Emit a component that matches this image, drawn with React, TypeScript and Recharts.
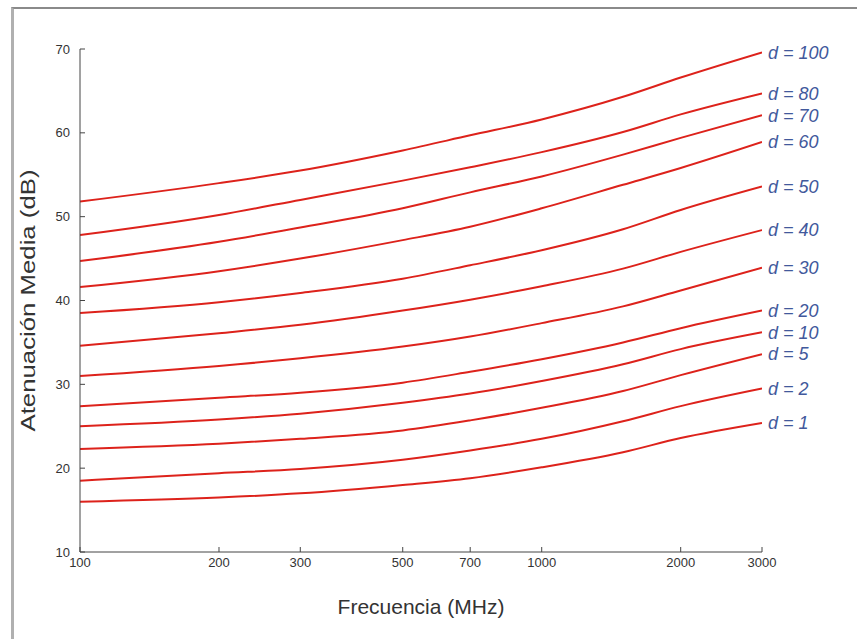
import React from 'react';
import { LineChart, Line, XAxis, YAxis } from 'recharts';

// frecuencias (MHz)
const freqs = [100, 200, 300, 500, 700, 1000, 1500, 2000, 3000];

const d100 = [51.8, 54.0, 55.5, 57.9, 59.7, 61.6, 64.3, 66.6, 69.6];
const d80 = [47.8, 50.2, 52.0, 54.3, 55.9, 57.7, 60.1, 62.2, 64.7];
const d70 = [44.7, 47.0, 48.7, 51.0, 52.9, 54.8, 57.4, 59.4, 62.1];
const d60 = [41.6, 43.5, 45.0, 47.2, 48.8, 51.0, 53.8, 55.8, 58.9];
const d50 = [38.5, 39.8, 40.9, 42.6, 44.2, 46.0, 48.5, 50.8, 53.6];
const d40 = [34.6, 36.1, 37.1, 38.8, 40.1, 41.7, 43.8, 45.8, 48.4];
const d30 = [31.0, 32.2, 33.1, 34.5, 35.7, 37.3, 39.3, 41.2, 43.9];
const d20 = [27.4, 28.4, 29.0, 30.2, 31.5, 33.0, 35.0, 36.7, 38.8];
const d10 = [25.0, 25.8, 26.5, 27.8, 28.9, 30.4, 32.4, 34.2, 36.2];
const d5 = [22.3, 22.9, 23.5, 24.5, 25.7, 27.2, 29.2, 31.1, 33.6];
const d2 = [18.5, 19.4, 19.9, 21.0, 22.1, 23.5, 25.6, 27.4, 29.5];
const d1 = [16.0, 16.5, 17.0, 18.0, 18.8, 20.1, 21.9, 23.6, 25.4];

const seriesNames = ['d = 100', 'd = 80', 'd = 70', 'd = 60', 'd = 50', 'd = 40', 'd = 30', 'd = 20', 'd = 10', 'd = 5', 'd = 2', 'd = 1'];
const seriesValues = [d100, d80, d70, d60, d50, d40, d30, d20, d10, d5, d2, d1];

const xTicks = [100, 200, 300, 500, 700, 1000, 2000, 3000];
const yTicks = [10, 20, 30, 40, 50, 60, 70];

const data = freqs.map((f, i) => {
  const row: Record<string, number> = { f };
  seriesNames.forEach((name, k) => {
    row[name] = seriesValues[k][i];
  });
  return row;
});

const FONT = "'Liberation Sans', Arial, sans-serif";

const makeEndLabel = (name: string) => (props: any) => {
  const { x, y, index } = props;
  if (index !== freqs.length - 1) return null;
  return (
    <text x={x + 6} y={y} dy="0.35em" fill="#42599c" fontSize={18} fontStyle="italic" fontFamily={FONT}>
      {name}
    </text>
  );
};

// etiqueta del eje Y, algo estirada en vertical como en el original
const YTitle = (props: any) => {
  const { viewBox } = props;
  const cx = 28;
  const cy = viewBox.y + viewBox.height / 2;
  return (
    <text
      x={cx}
      y={cy}
      transform={`rotate(-90 ${cx} ${cy})`}
      textAnchor="middle"
      dy="0.35em"
      fill="#333"
      fontSize={21}
      fontFamily={FONT}
      textLength={262}
      lengthAdjust="spacingAndGlyphs"
    >
      Atenuación Media (dB)
    </text>
  );
};

const tickStyle = { fill: '#333', fontSize: 13, fontFamily: FONT };

export default function App() {
  return (
    <div style={{ position: 'absolute', left: 0, top: 0, width: 857, height: 639, overflow: 'hidden', background: '#fff' }}>
      <div
        style={{
          position: 'absolute',
          left: 11,
          top: 7,
          width: 900,
          height: 700,
          borderLeft: '3px solid #b0b0b0',
          borderTop: '2px solid #8a8a8a',
        }}
      />
      <div style={{ position: 'absolute', left: 0, top: 0 }}>
        <LineChart width={857} height={639} data={data} margin={{ top: 49, right: 95, bottom: 22, left: 20 }}>
          <XAxis
            dataKey="f"
            type="number"
            scale="log"
            domain={[100, 3000]}
            ticks={xTicks}
            allowDataOverflow
            height={65}
            stroke="#444"
            tickSize={-5}
            tickMargin={11}
            tick={tickStyle}
            interval={0}
            label={{
              value: 'Frecuencia (MHz)',
              position: 'insideBottom',
              offset: 3,
              fill: '#333',
              fontSize: 21,
              fontFamily: FONT,
            }}
          />
          <YAxis
            type="number"
            domain={[10, 70]}
            ticks={yTicks}
            width={60}
            stroke="#444"
            tickSize={-5}
            tickMargin={15}
            tick={tickStyle}
            interval={0}
            label={{ content: <YTitle /> }}
          />
          {seriesNames.map((name) => (
            <Line
              key={name}
              dataKey={name}
              type="monotone"
              stroke="#dd221b"
              strokeWidth={2}
              dot={false}
              isAnimationActive={false}
              label={makeEndLabel(name)}
            />
          ))}
        </LineChart>
      </div>
    </div>
  );
}
